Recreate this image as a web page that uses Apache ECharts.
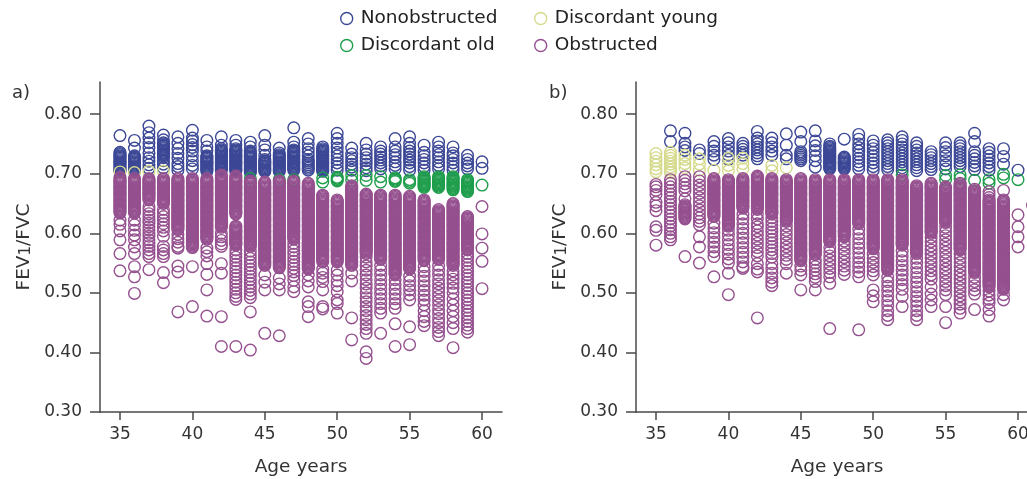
<!DOCTYPE html>
<html><head><meta charset="utf-8">
<script src="https://cdn.jsdelivr.net/npm/echarts@6/dist/echarts.min.js"></script>
<style>html,body{margin:0;padding:0;background:#fff}#c{width:1027px;height:479px}</style>
</head><body><div id="c"></div>
<script>
// values in thousandths of FEV1/FVC, per age
const seriesNames = ['Nonobstructed', 'Discordant young', 'Discordant old', 'Obstructed'];
const xTicks = [35, 40, 45, 50, 55, 60];
const yTicks = [0.3, 0.4, 0.5, 0.6, 0.7, 0.8];

const aNonobstructed = [
[35,"764 736 734 732 730 728 726 724 722 720 718 716 714 712 710 708 706 704"],
[36,"756 743 730 728 726 724 722 720 718 716 714 712 710 708 706 704"],
[37,"780 769 760 752 744 735 727 721 715 709"],
[38,"765 757 752 750 748 746 744 742 740 738 736 734 732 730 727 722 716 710"],
[39,"762 751 742 734 726 717 712 706"],
[40,"773 760 755 749 744 738 730 722 714 708"],
[41,"756 745 738 730 728 726 724 722 720 718 716 714 712 710 708 706 704"],
[42,"762 748 742 740 738 736 734 732 730 728 726 724 722 720 718 716 714 712 710 708 706"],
[43,"756 748 742 740 738 736 734 732 730 728 726 724 722 720 718 716 714 712 710 708 706 704"],
[44,"753 745 738 736 734 732 730 728 726 724 722 720 718 716 714 712 710 708 706 704 702"],
[45,"764 748 740 731 724 722 720 718 716 714 712 710 708 706 704"],
[46,"743 735 732 730 728 726 724 722 720 718 716 714 712 710 708 706 704"],
[47,"777 753 745 740 738 736 734 732 730 728 726 724 722 720 718 716 714 712 710 708 706"],
[48,"759 750 742 736 730 724 721 718 715 712 709 706"],
[49,"745 742 740 738 736 734 732 730 728 726 724 722 720 718 716 714 712 710 708 706 704"],
[50,"768 759 751 743 736 730 724 718 712 706"],
[51,"743 733 727 722 716 711 706"],
[52,"751 740 733 727 722 716 710 705"],
[53,"745 738 733 728 723 718 713 708"],
[54,"759 745 738 732 727 720 714 708"],
[55,"762 751 744 738 733 728 723 718 712 706"],
[56,"748 736 730 724 718 712 706"],
[57,"753 745 738 732 727 720 714 708"],
[58,"745 735 730 724 718 712 706"],
[59,"731 724 718 713 708"],
[60,"720 709"]
];
const aYoung = [[35,"703"],[36,"702"],[37,"704"],[38,"704"]];
const aOld = [
[44,"692"],[46,"690"],[47,"690"],[49,"693 686"],[50,"694 692 690 688"],
[51,"697 689"],[52,"697 689"],[53,"695 686"],[54,"693 691 689 687"],[55,"690 687 684"],
[56,"695 693 691 689 687 685 683 681 679 677"],[57,"695 693 691 689 687 685 683 681 679 677"],
[58,"695 693 691 689 687 685 683 681 679 677 675 673"],[59,"690 688 686 684 682 680 678 676 674 672 670"],[60,"681"]
];
const aObstructed = [
[35,"694 692 690 688 686 684 682 680 678 676 674 672 670 668 666 664 662 660 658 656 654 652 650 648 646 644 642 640 638 636 634 622 615 604 589 566 537"],
[36,"692 690 688 686 684 682 680 678 676 674 672 670 668 666 664 662 660 658 656 654 652 650 648 646 644 642 640 638 636 634 622 614 605 597 589 577 566 544 527 499"],
[37,"692 690 688 686 684 682 680 678 676 674 672 670 668 666 664 662 660 658 656 645 639 633 628 622 617 611 606 600 595 589 584 578 572 566 561 539"],
[38,"692 690 688 686 684 682 680 678 676 674 672 670 668 666 664 662 660 658 656 654 652 650 640 634 628 622 616 610 604 595 578 572 566 561 534 517"],
[39,"692 690 688 686 684 682 680 678 676 674 672 670 668 666 664 662 660 658 656 654 652 650 648 646 644 642 640 638 636 634 632 630 628 626 624 622 620 618 616 614 612 610 608 606 598 591 585 578 575 545 535 468"],
[40,"692 690 688 686 684 682 680 678 676 674 672 670 668 666 664 662 660 658 656 654 652 650 648 646 644 642 640 638 636 634 632 630 628 626 624 622 620 618 616 614 612 610 608 606 604 602 600 598 596 594 592 590 588 586 584 582 580 578 576 544 477"],
[41,"692 690 688 686 684 682 680 678 676 674 672 670 668 666 664 662 660 658 656 654 652 650 648 646 644 642 640 638 636 634 632 630 628 626 624 622 620 618 616 614 612 610 608 606 604 602 600 598 596 594 592 590 575 569 562 549 531 505 461"],
[42,"698 696 694 692 690 688 686 684 682 680 678 676 674 672 670 668 666 664 662 660 658 656 654 652 650 648 646 644 642 640 638 636 634 632 630 628 626 624 622 620 618 616 614 612 610 600 594 588 582 578 549 533 460 410"],
[43,"696 694 692 690 688 686 684 682 680 678 676 674 672 670 668 666 664 662 660 658 656 654 652 650 648 646 644 642 640 638 636 634 632 612 610 608 606 604 602 600 598 596 594 592 590 588 586 584 582 580 572 566 560 554 548 542 536 530 524 518 512 506 500 494 489 410"],
[44,"688 686 684 682 680 678 676 674 672 670 668 666 664 662 660 658 656 654 652 650 648 646 644 642 640 638 636 634 632 630 628 626 624 622 620 618 616 614 612 610 608 606 604 602 600 598 596 594 592 590 588 586 584 582 580 578 570 564 558 552 546 540 534 528 522 516 510 504 498 492 468 404"],
[45,"686 684 682 680 678 676 674 672 670 668 666 664 662 660 658 656 654 652 650 648 646 644 642 640 638 636 634 632 630 628 626 624 622 620 618 616 614 612 610 608 606 604 602 600 598 596 594 592 590 588 586 584 582 580 578 576 574 572 570 568 566 564 562 560 558 556 554 552 550 548 546 530 518 505 432"],
[46,"688 686 684 682 680 678 676 674 672 670 668 666 664 662 660 658 656 654 652 650 648 646 644 642 640 638 636 634 632 630 628 626 624 622 620 618 616 614 612 610 608 606 604 602 600 598 596 594 592 590 588 586 584 582 580 578 576 574 572 570 568 566 564 562 560 558 556 554 552 550 548 546 544 542 525 515 505 428"],
[47,"688 686 684 682 680 678 676 674 672 670 668 666 664 662 660 658 656 654 652 650 648 646 644 642 640 638 636 634 632 630 628 626 624 622 620 618 616 614 612 610 608 606 604 602 600 598 596 594 592 590 583 577 571 565 559 553 547 541 535 529 521 510 502"],
[48,"684 682 680 678 676 674 672 670 668 666 664 662 660 658 656 654 652 650 648 646 644 642 640 638 636 634 632 630 628 626 624 622 620 618 616 614 612 610 608 606 604 602 600 598 596 594 592 590 588 586 584 582 580 578 576 574 572 570 568 566 564 562 560 558 556 554 552 550 548 546 544 542 540 530 520 510 485 477 460"],
[49,"664 662 660 658 656 654 652 650 648 646 644 642 640 638 636 634 632 630 628 626 624 622 620 618 616 614 612 610 608 606 604 602 600 598 596 594 592 590 588 586 584 582 580 578 576 574 572 570 568 566 564 562 560 558 556 554 552 540 533 526 519 505 477 473"],
[50,"656 654 652 650 648 646 644 642 640 638 636 634 632 630 628 626 624 622 620 618 616 614 612 610 608 606 604 602 600 598 596 594 592 590 588 586 584 582 580 578 576 574 572 570 568 566 564 562 560 558 556 554 552 538 530 520 512 502 488 482 466"],
[51,"680 678 676 674 672 670 668 666 664 662 660 658 656 654 652 650 648 646 644 642 640 638 636 634 632 630 628 626 624 622 620 618 616 614 612 610 608 606 604 602 600 598 596 594 592 590 588 586 584 582 580 578 576 574 572 570 568 566 564 562 560 558 556 554 552 550 548 546 533 520 458 421"],
[52,"666 664 662 660 658 656 654 652 650 648 646 644 642 640 638 636 634 632 630 628 626 624 622 620 618 616 614 612 610 608 606 604 602 600 598 596 594 592 590 588 586 584 582 580 578 576 574 572 570 568 566 560 552 545 538 530 522 515 508 500 492 485 477 470 462 455 447 440 432 401 390"],
[53,"664 662 660 658 656 654 652 650 648 646 644 642 640 638 636 634 632 630 628 626 624 622 620 618 616 614 612 610 608 606 604 602 600 598 596 594 592 590 588 586 584 582 580 578 576 574 572 570 568 566 564 562 560 558 556 546 538 530 522 514 506 498 490 482 474 466 432"],
[54,"664 662 660 658 656 654 652 650 648 646 644 642 640 638 636 634 632 630 628 626 624 622 620 618 616 614 612 610 608 606 604 602 600 598 596 594 592 590 588 586 584 582 580 578 576 574 572 570 568 566 564 562 560 558 556 554 552 550 548 546 544 542 540 538 536 534 532 530 522 514 506 498 490 482 474 448 410"],
[55,"662 660 658 656 654 652 650 648 646 644 642 640 638 636 634 632 630 628 626 624 622 620 618 616 614 612 610 608 606 604 602 600 598 596 594 592 590 588 586 584 582 580 578 576 574 572 570 568 566 564 562 560 558 556 554 552 550 548 546 544 542 540 528 520 512 505 497 488 443 413"],
[56,"656 654 652 650 648 646 644 642 640 638 636 634 632 630 628 626 624 622 620 618 616 614 612 610 608 606 604 602 600 598 596 594 592 590 588 586 584 582 580 578 576 574 572 570 568 566 564 562 560 558 556 554 544 536 528 520 512 504 496 488 480 470 460 452 445"],
[57,"640 638 636 634 632 630 628 626 624 622 620 618 616 614 612 610 608 606 604 602 600 598 596 594 592 590 588 586 584 582 580 578 576 574 572 570 568 566 564 562 560 558 556 546 538 530 522 515 508 501 494 487 480 472 465 457 450 442 435 428"],
[58,"650 648 646 644 642 640 638 636 634 632 630 628 626 624 622 620 618 616 614 612 610 608 606 604 602 600 598 596 594 592 590 588 586 584 582 580 578 576 574 572 570 568 566 564 562 560 558 556 554 552 550 548 546 537 530 523 516 508 500 490 480 470 460 450 440 408"],
[59,"628 626 624 622 620 618 616 614 612 610 608 606 604 602 600 598 596 594 592 590 588 586 584 582 580 578 576 574 572 566 560 554 548 542 536 530 524 518 512 506 500 494 488 482 476 470 464 458 452 446 440 434"],
[60,"645 599 575 553 507"]
];

const bNonobstructed = [
[36,"772 754"],[37,"768 751 745 739"],[38,"740 734"],[39,"754 746 738 731 724"],
[40,"759 752 745 738 731 724"],[41,"751 746 741 736 731"],
[42,"771 760 755 750 745 740 735 730 725"],[43,"760 752 745 738 731"],[44,"767 748 731 725"],
[45,"770 754 737 734 731 728 725 722"],[46,"772 755 747 739 730 722 711"],
[47,"750 746 744 742 740 738 736 734 732 730 728 726 724 722 720 718 716 714 712 710 708"],
[48,"758 728 726 724 722 720 718 716 714 712 710 708"],
[49,"766 758 750 744 738 732 726 720 714 708"],
[50,"755 748 742 736 730 724 718 712 706"],
[51,"757 752 747 742 737 732 727 722 717 712 707"],
[52,"762 756 750 745 740 735 730 725 720 715 710 705"],
[53,"752 746 740 735 730 725 720 715 710 705"],
[54,"737 732 727 722 717 712 707"],[55,"752 744 737 730 722 715 708"],
[56,"752 747 742 737 732 727 722 717 712"],[57,"768 754 737 731 725 719 713 707"],
[58,"742 736 730 724 718 712 706"],[59,"742 729 716"],[60,"706"]
];
const bYoung = [
[35,"734 727 721 715 708 703"],[36,"736 731 726 721 716 711 706 702"],[37,"731 724 717 710"],
[38,"725 716 706"],[39,"706"],[40,"726 714 705"],[41,"726 717 708"],[43,"714 705"],[44,"710"]
];
const bOld = [[52,"698"],[55,"697 690"],[56,"698 692"],[57,"689"],[58,"690 684"],[59,"699 693"],[60,"690"]];
const bObstructed = [
[35,"682 678 672 665 652 646 638 611 605 580"],
[36,"690 684 678 672 666 660 654 648 642 636 630 624 618 612 606 600 594 589"],
[37,"695 689 683 677 671 658 648 646 644 642 640 638 636 634 632 630 628 626 624 561"],
[38,"695 688 681 674 667 660 653 646 639 632 626 620 614 594 577 550"],
[39,"692 690 688 686 684 682 680 678 676 674 672 670 668 666 664 662 660 658 656 654 652 650 648 646 644 642 640 638 636 634 632 630 628 617 609 601 593 585 577 569 561 527"],
[40,"690 688 686 684 682 680 678 676 674 672 670 668 666 664 662 660 658 656 654 652 650 648 646 644 642 640 638 636 634 632 630 628 626 624 622 620 618 616 614 612 605 597 589 581 573 565 557 550 533 497"],
[41,"692 690 688 686 684 682 680 678 676 674 672 670 668 666 664 662 660 658 656 654 652 650 648 646 644 642 632 624 616 608 600 592 584 576 568 560 552 544 541"],
[42,"696 694 692 690 688 686 684 682 680 678 676 674 672 670 668 666 664 662 660 658 656 654 652 650 648 646 644 642 640 632 624 616 611 604 597 590 583 576 569 562 549 540 535 458"],
[43,"692 690 688 686 684 682 680 678 676 674 672 670 668 666 664 662 660 658 656 654 652 650 648 646 644 642 640 638 636 634 632 626 620 614 608 602 596 590 584 578 572 566 560 549 541 533 525 518 512"],
[44,"690 688 686 684 682 680 678 676 674 672 670 668 666 664 662 660 658 656 654 652 650 648 646 644 642 640 638 636 634 632 630 628 626 624 622 620 612 605 598 591 584 577 570 563 556 549 533"],
[45,"692 690 688 686 684 682 680 678 676 674 672 670 668 666 664 662 660 658 656 654 652 650 648 646 644 642 640 638 636 634 632 630 628 626 624 622 620 618 616 614 612 610 608 606 604 602 600 598 596 594 592 590 588 586 584 582 580 578 576 574 572 570 568 566 564 562 560 558 556 554 545 538 530 505"],
[46,"690 688 686 684 682 680 678 676 674 672 670 668 666 664 662 660 658 656 654 652 650 648 646 644 642 640 638 636 634 632 630 628 626 624 622 620 618 616 614 612 610 608 606 604 602 600 598 596 594 592 590 588 586 584 582 580 578 576 574 572 570 568 566 564 556 550 544 538 532 526 519 505"],
[47,"690 688 686 684 682 680 678 676 674 672 670 668 666 664 662 660 658 656 654 652 650 648 646 644 642 640 638 636 634 632 630 628 626 624 622 620 618 616 614 612 610 608 606 604 602 600 598 596 594 592 590 588 586 576 569 562 555 548 541 534 527 516 440"],
[48,"690 688 686 684 682 680 678 676 674 672 670 668 666 664 662 660 658 656 654 652 650 648 646 644 642 640 638 636 634 632 630 628 626 624 622 620 618 616 614 612 610 608 606 604 602 600 598 596 594 587 580 573 566 559 552 545 538 531"],
[49,"690 688 686 684 682 680 678 676 674 672 670 668 666 664 662 660 658 656 654 652 650 648 646 644 642 640 638 636 634 632 630 628 626 624 622 620 618 616 607 599 591 583 575 567 559 551 543 535 527 438"],
[50,"690 688 686 684 682 680 678 676 674 672 670 668 666 664 662 660 658 656 654 652 650 648 646 644 642 640 638 636 634 632 630 628 626 624 622 620 618 616 614 612 610 608 606 604 602 600 598 596 594 592 590 588 586 584 582 580 578 576 574 565 558 551 544 537 530 505 495 485"],
[51,"690 688 686 684 682 680 678 676 674 672 670 668 666 664 662 660 658 656 654 652 650 648 646 644 642 640 638 636 634 632 630 628 626 624 622 620 618 616 614 612 610 608 606 604 602 600 598 596 594 592 590 588 586 584 582 580 578 576 574 572 570 568 566 564 562 560 558 556 554 552 550 548 546 544 542 540 538 527 519 511 503 495 487 479 470 462 455"],
[52,"690 688 686 684 682 680 678 676 674 672 670 668 666 664 662 660 658 656 654 652 650 648 646 644 642 640 638 636 634 632 630 628 626 624 622 620 618 616 614 612 610 608 606 604 602 600 598 596 594 592 590 588 586 584 582 580 570 562 554 546 538 530 522 514 506 494 477"],
[53,"680 678 676 674 672 670 668 666 664 662 660 658 656 654 652 650 648 646 644 642 640 638 636 634 632 630 628 626 624 622 620 618 616 614 612 610 608 606 604 602 600 598 596 594 592 590 588 586 584 582 580 578 576 574 572 570 568 566 558 550 542 534 526 518 510 502 494 486 478 470 462 455"],
[54,"684 682 680 678 676 674 672 670 668 666 664 662 660 658 656 654 652 650 648 646 644 642 640 638 636 634 632 630 628 626 624 622 620 618 616 614 612 610 608 606 604 602 600 593 586 579 572 565 558 551 544 537 530 523 510 498 488 477"],
[55,"678 676 674 672 670 668 666 664 662 660 658 656 654 652 650 648 646 644 642 640 638 636 634 632 630 628 626 624 622 620 618 610 603 596 589 582 575 568 561 554 547 540 533 526 519 512 505 497 477 450"],
[56,"684 682 680 678 676 674 672 670 668 666 664 662 660 658 656 654 652 650 648 646 644 642 640 638 636 634 632 630 628 626 624 622 620 618 616 614 612 610 608 606 604 602 600 598 596 594 592 590 588 586 584 582 580 578 576 574 572 565 558 551 544 537 530 523 516 509 502 495 488 481 474 466"],
[57,"674 672 670 668 666 664 662 660 658 656 654 652 650 648 646 644 642 640 638 636 634 632 630 628 626 624 622 620 618 616 614 612 610 608 606 604 602 600 598 596 594 592 590 588 586 584 582 580 578 576 574 572 570 568 566 564 562 560 558 556 554 552 550 548 546 544 542 540 538 536 534 526 519 512 505 498 472"],
[58,"670 665 660 656 654 652 650 648 646 644 642 640 638 636 634 632 630 628 626 624 622 620 618 616 614 612 610 608 606 604 602 600 598 596 594 592 590 588 586 584 582 580 578 576 574 572 570 568 566 564 562 560 558 556 554 552 550 548 546 544 542 540 538 536 534 532 530 528 526 524 522 520 518 516 514 512 510 503 496 489 483 472 461"],
[59,"672 656 654 652 650 648 646 644 642 640 638 636 634 632 630 628 626 624 622 620 618 616 614 612 610 608 606 604 602 600 598 596 594 592 590 588 586 584 582 580 578 576 574 572 570 568 566 564 562 560 558 556 554 552 550 548 546 544 542 540 538 536 534 532 530 528 526 524 522 520 518 516 514 512 510 508 506 497 488"],
[60,"631 611 594 577"],
[61,"647"]
];

const colors = ['#3c4896', '#d5da8c', '#1f9e4c', '#95508f'];
const FONT = '"DejaVu Sans", sans-serif';

function build(list) {
  const out = [];
  list.forEach(([age, s]) => {
    s.trim().split(/\s+/).filter(Boolean).forEach(t => out.push([age, Number(t) / 1000]));
  });
  return out;
}

const panels = [
  [aNonobstructed, aYoung, aOld, aObstructed],
  [bNonobstructed, bYoung, bOld, bObstructed]
];

const series = [];
panels.forEach((p, gi) => {
  p.forEach((list, si) => {
    series.push({
      name: seriesNames[si], type: 'scatter', xAxisIndex: gi, yAxisIndex: gi,
      data: build(list), symbol: 'circle', symbolSize: 11.6,
      itemStyle: { color: 'rgba(255,255,255,0)', borderColor: colors[si], borderWidth: 1.4, opacity: 1 },
      large: false, progressive: 0, animation: false, silent: true,
      emphasis: { disabled: true }
    });
  });
});

const axisColor = '#4a4a4a';
function xAxis(gi) {
  return {
    gridIndex: gi, type: 'value', min: 33.62, max: 61.38,
    axisLine: { show: true, onZero: false, lineStyle: { color: axisColor, width: 1.5 } },
    axisTick: { show: true, length: 8, customValues: xTicks, lineStyle: { color: axisColor, width: 1.5 } },
    axisLabel: { customValues: xTicks, fontSize: 17, color: '#333', margin: 14, fontFamily: FONT },
    splitLine: { show: false },
    name: 'Age years', nameLocation: 'middle', nameGap: 46,
    nameTextStyle: { fontSize: 18.5, color: '#333', fontFamily: FONT }
  };
}
function yAxis(gi) {
  return {
    gridIndex: gi, type: 'value', min: 0.3, max: 0.854,
    axisLine: { show: true, onZero: false, lineStyle: { color: axisColor, width: 1.5 } },
    axisTick: { show: true, length: 10, customValues: yTicks, lineStyle: { color: axisColor, width: 1.5 } },
    axisLabel: { customValues: yTicks, fontSize: 17, color: '#333', margin: 18, fontFamily: FONT,
      formatter: v => v.toFixed(2) },
    splitLine: { show: false },
    name: 'FEV{s|1}/FVC', nameLocation: 'middle', nameRotate: 90, nameGap: 66,
    nameTextStyle: { fontSize: 18.5, color: '#333', fontFamily: FONT,
      rich: { s: { fontSize: 15, color: '#333', fontFamily: FONT, padding: [4, 0, 0, 0] } } }
  };
}

function legend(name, left, top) {
  return {
    data: [name], left: left, top: top, padding: 0, itemWidth: 18, itemHeight: 12, icon: 'circle',
    textStyle: { fontSize: 18.5, color: '#222', fontFamily: FONT },
    itemStyle: { color: 'rgba(255,255,255,0)', borderColor: colors[seriesNames.indexOf(name)], borderWidth: 1.4 },
    selectedMode: false
  };
}

const chart = echarts.init(document.getElementById('c'), null, { renderer: 'canvas' });
chart.setOption({
  animation: false,
  backgroundColor: '#fff',
  legend: [
    legend('Nonobstructed', 340, 9),
    legend('Discordant young', 534, 9),
    legend('Discordant old', 340, 36),
    legend('Obstructed', 534, 36)
  ],
  grid: [
    { left: 100, right: 525, top: 82, bottom: 67, containLabel: false, outerBoundsMode: 'none' },
    { left: 636, right: -11, top: 82, bottom: 67, containLabel: false, outerBoundsMode: 'none' }
  ],
  xAxis: [xAxis(0), xAxis(1)],
  yAxis: [yAxis(0), yAxis(1)],
  graphic: [
    { type: 'text', left: 12, top: 84, style: { text: 'a)', fontSize: 18, fill: '#333', fontFamily: FONT } },
    { type: 'text', left: 549, top: 84, style: { text: 'b)', fontSize: 18, fill: '#333', fontFamily: FONT } }
  ],
  series: series
});
</script>
</body></html>
